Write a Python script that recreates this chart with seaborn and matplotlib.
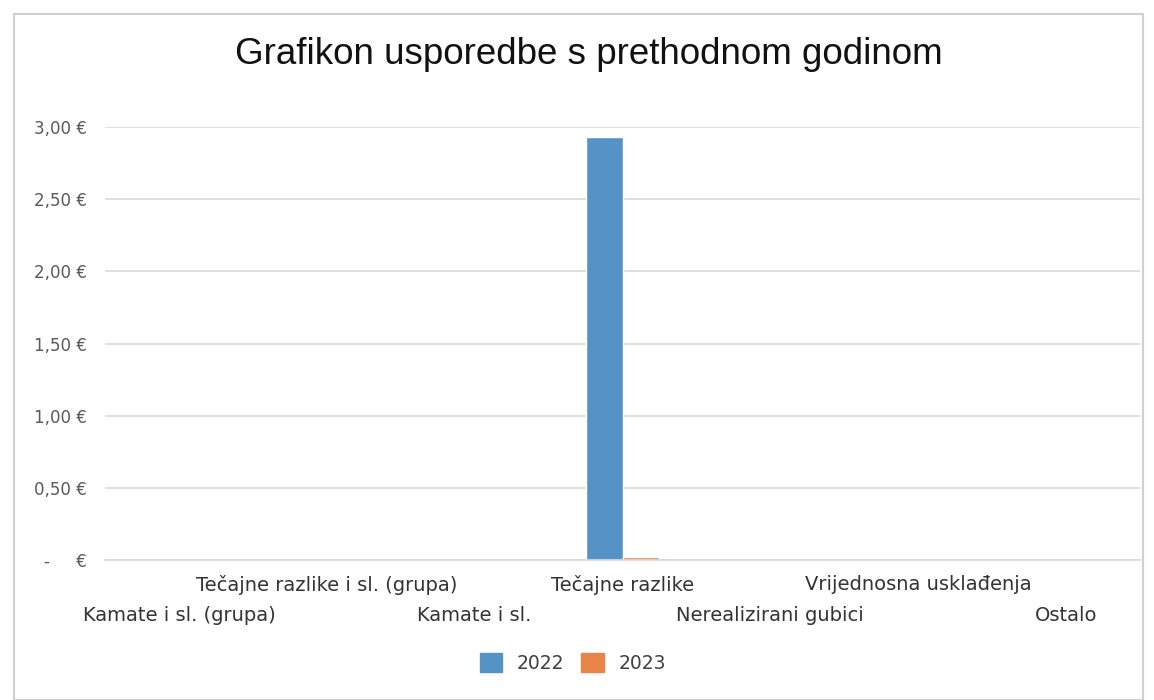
import matplotlib
matplotlib.use("Agg")
import matplotlib.pyplot as plt
import seaborn as sns
import pandas as pd
from matplotlib.patches import Rectangle
from matplotlib.ticker import FixedLocator, FuncFormatter

categories = ["Kamate i sl. (grupa)", "Tečajne razlike i sl. (grupa)", "Kamate i sl.",
              "Tečajne razlike", "Nerealizirani gubici", "Vrijednosna usklađenja", "Ostalo"]
values_2022 = [0, 0, 0, 2.93, 0, 0, 0]
values_2023 = [0, 0, 0, 0.02, 0, 0, 0]
series = ["2022", "2023"]
y_ticks = [0, 0.5, 1.0, 1.5, 2.0, 2.5, 3.0]
title = "Grafikon usporedbe s prethodnom godinom"

df = pd.DataFrame({
    "Kategorija": categories * 2,
    "Godina": [series[0]] * len(categories) + [series[1]] * len(categories),
    "Iznos": values_2022 + values_2023,
})

sns.set_theme(style="white")
plt.rcParams["font.family"] = ["Liberation Sans Narrow", "DejaVu Sans"]

fig = plt.figure(figsize=(11.54, 7.0), dpi=100)
ax = fig.add_axes([105 / 1154, 1 - 560 / 700, (1140 - 105) / 1154, (560 - 127) / 700])

palette = {"2022": "#5593c6", "2023": "#e8844a"}
sns.barplot(data=df, x="Kategorija", y="Iznos", hue="Godina", order=categories,
            hue_order=series, palette=palette, width=0.5, ax=ax, saturation=1,
            legend=True)

ax.set_xlim(-0.5, len(categories) - 0.5)
ax.set_ylim(0, 3.0)
ax.yaxis.set_major_locator(FixedLocator(y_ticks))

def fmt(v, pos):
    if abs(v) < 1e-9:
        return "-     €"
    return f"{v:.2f}".replace(".", ",") + " €"

ax.yaxis.set_major_formatter(FuncFormatter(fmt))
ax.grid(axis="y", color="#d9d9d9", linewidth=1.2)
ax.set_axisbelow(True)
for s in ["top", "right", "left"]:
    ax.spines[s].set_visible(False)
ax.spines["bottom"].set_color("#d9d9d9")
ax.spines["bottom"].set_linewidth(1.2)
ax.set_xlabel("")
ax.set_ylabel("")
ax.tick_params(axis="y", length=0, pad=13, labelsize=12, labelcolor="#595959")

even_pos = [i for i in range(len(categories)) if i % 2 == 0]
odd_pos = [i for i in range(len(categories)) if i % 2 == 1]
ax.set_xticks(even_pos, labels=[categories[i] for i in even_pos])
ax.set_xticks(odd_pos, labels=[categories[i] for i in odd_pos], minor=True)
ax.tick_params(axis="x", which="major", length=0, pad=33, labelsize=14, labelcolor="#333333")
ax.tick_params(axis="x", which="minor", length=0, pad=11, labelsize=14, labelcolor="#333333")

ax.get_legend().remove()
handles = [Rectangle((0, 0), 1, 1, color=palette[s]) for s in series]
fig.legend(handles, series, loc="center", bbox_to_anchor=(573 / 1154, 1 - 663 / 700),
           ncol=2, frameon=False, handlelength=1.2, handleheight=1.2,
           columnspacing=0.9, handletextpad=0.8,
           prop={"family": ["DejaVu Sans"], "size": 13.5})
for t in fig.legends[0].get_texts():
    t.set_color("#404040")

fig.text(589 / 1154, 1 - 55 / 700, title, ha="center", va="center",
         fontsize=26.5, color="#111111", family=["Liberation Sans", "DejaVu Sans"])

fig.patches.append(Rectangle((14 / 1154, 0.0), (1143 - 14) / 1154, 1 - 14 / 700,
                             transform=fig.transFigure, fill=False,
                             edgecolor="#d0d0d0", linewidth=1.5))

fig.savefig("out.png", dpi=100)
